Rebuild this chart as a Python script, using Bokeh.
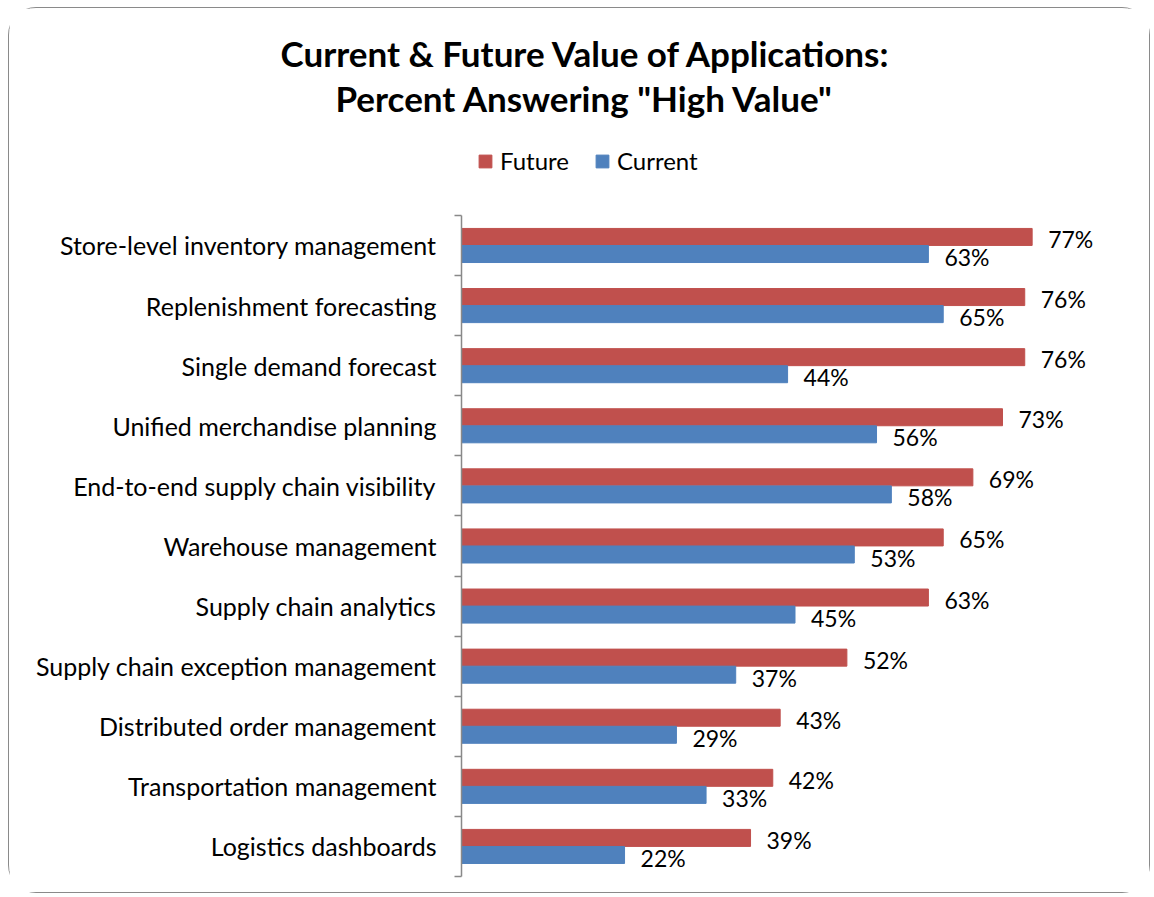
from bokeh.plotting import figure
from bokeh.models import (ColumnDataSource, Range1d, FixedTicker, Title, Legend, LegendItem)
from bokeh.core.properties import value
from bokeh.embed import file_html
from bokeh.resources import INLINE

categories = [
    "Store-level inventory management",
    "Replenishment forecasting",
    "Single demand forecast",
    "Unified merchandise planning",
    "End-to-end supply chain visibility",
    "Warehouse management",
    "Supply chain analytics",
    "Supply chain exception management",
    "Distributed order management",
    "Transportation management",
    "Logistics dashboards",
]
future = [77, 76, 76, 73, 69, 65, 63, 52, 43, 42, 39]
current = [63, 65, 44, 56, 58, 53, 45, 37, 29, 33, 22]
title_lines = ["Current & Future Value of Applications:", 'Percent Answering "High Value"']

RED = "#C0504D"
BLUE = "#4F81BD"
FONT = "Lato"

n = len(categories)
centers = [n - i - 0.5 for i in range(n)]
off = 0.142
bh = 0.283
ext = 1.38  # headroom above the categories for the legend

src_f = ColumnDataSource(dict(y=[c + off for c in centers], v=future,
                              t=[f"{v}%" for v in future]))
src_c = ColumnDataSource(dict(y=[c - off for c in centers], v=current,
                              t=[f"{v}%" for v in current]))

W, H = 1144, 886
p = figure(width=W, height=H, output_backend="svg", toolbar_location=None,
           x_range=Range1d(0, 90), y_range=Range1d(0, n + ext),
           min_border_left=452, min_border_right=23,
           min_border_top=124, min_border_bottom=18)
p.outline_line_color = None
p.xgrid.visible = False
p.ygrid.visible = False
p.xaxis.visible = False
p.background_fill_color = "white"
p.border_fill_color = "white"

rf = p.hbar(y="y", right="v", left=0, height=bh, source=src_f, fill_color=RED, line_color=RED)
rc = p.hbar(y="y", right="v", left=0, height=bh, source=src_c, fill_color=BLUE, line_color=BLUE)

p.text(x="v", y="y", text="t", source=src_f, x_offset=16, y_offset=2,
       text_baseline="middle", text_align="left", text_font=value(FONT),
       text_font_size="23px", text_color="black")
p.text(x="v", y="y", text="t", source=src_c, x_offset=16, y_offset=3,
       text_baseline="middle", text_align="left", text_font=value(FONT),
       text_font_size="23px", text_color="black")

ax = p.yaxis[0]
ax.bounds = (0, n)
ax.ticker = FixedTicker(ticks=centers, minor_ticks=list(range(n + 1)))
ax.major_label_overrides = {c: cat for c, cat in zip(centers, categories)}
ax.major_tick_line_color = None
ax.major_tick_out = 0
ax.major_tick_in = 0
ax.minor_tick_out = 7
ax.minor_tick_in = 0
ax.minor_tick_line_color = "#898989"
ax.minor_tick_line_width = 1.5
ax.axis_line_color = "#898989"
ax.axis_line_width = 1.5
ax.major_label_standoff = 18
ax.major_label_text_font = FONT
ax.major_label_text_font_size = "25px"
ax.major_label_text_color = "black"

legend = Legend(items=[LegendItem(label="Future", renderers=[rf]),
                       LegendItem(label="Current", renderers=[rc])],
                location=(16, 701), orientation="horizontal",
                padding=0, margin=0, spacing=25, label_standoff=7,
                glyph_width=16, glyph_height=16, border_line_color=None,
                background_fill_alpha=0, label_text_font=FONT,
                label_text_font_size="24px", label_text_color="black")
p.add_layout(legend, "center")

t2 = Title(text=title_lines[1], align="left", offset=-126, vertical_align="middle",
           standoff=26, text_font=FONT, text_font_style="bold",
           text_font_size="35px", text_color="black")
t1 = Title(text=title_lines[0], align="left", offset=-181, vertical_align="middle",
           standoff=-24, text_font=FONT, text_font_style="bold",
           text_font_size="35px", text_color="black")
p.add_layout(t2, "above")
p.add_layout(t1, "above")

p.styles = {"border": "1.5px solid #8a8a8a", "border-radius": "28px",
            "margin-left": "8px", "margin-top": "7px", "width": "1142px"}

open("out.html", "w").write(file_html(p, INLINE))
